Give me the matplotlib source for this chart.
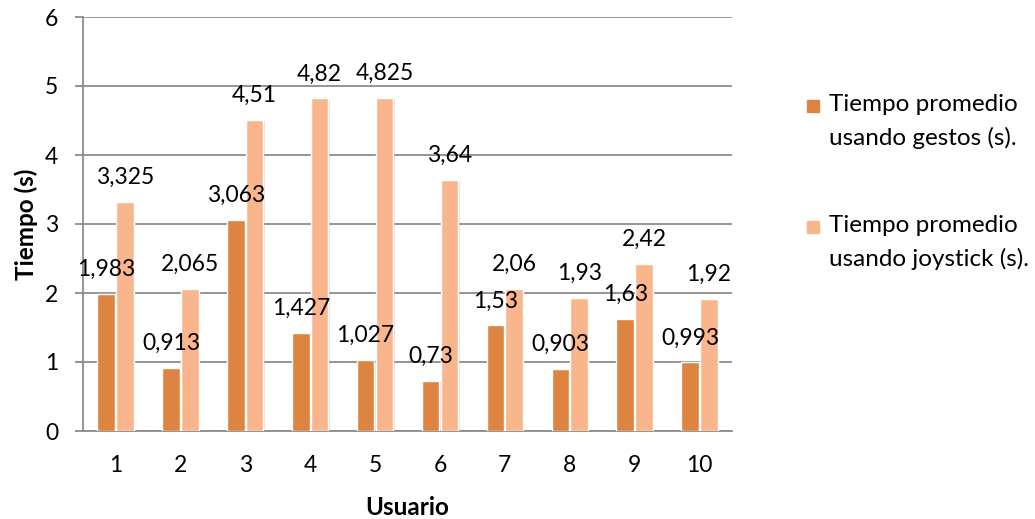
import matplotlib
matplotlib.use("Agg")
import matplotlib.pyplot as plt
import matplotlib.patheffects as pe
from matplotlib.patches import Rectangle
import numpy as np

plt.rcParams['font.family'] = ['Lato', 'DejaVu Sans']

usuarios = ['1', '2', '3', '4', '5', '6', '7', '8', '9', '10']
gestos = [1.983, 0.913, 3.063, 1.427, 1.027, 0.73, 1.53, 0.903, 1.63, 0.993]
joystick = [3.325, 2.065, 4.51, 4.82, 4.825, 3.64, 2.06, 1.93, 2.42, 1.92]
series_labels = ['Tiempo promedio\nusando gestos (s).',
                 'Tiempo promedio\nusando joystick (s).']
colors = ['#DC8440', '#F9B68C']

W, H = 1035, 519
fig = plt.figure(figsize=(W / 100, H / 100), dpi=100)
ax = fig.add_axes([83 / W, 1 - 431 / H, (732 - 83) / W, (431 - 17) / H])

x = np.arange(len(usuarios))
bw = 0.27
off = 0.145
shadow = [pe.SimplePatchShadow(offset=(1, -1), shadow_rgbFace='#999999', alpha=0.35), pe.Normal()]

for vals, sign, col in [(gestos, -1, colors[0]), (joystick, 1, colors[1])]:
    bars = ax.bar(x + sign * off, vals, width=bw, color=col,
                  edgecolor='white', linewidth=1.0, zorder=3)
    for b in bars:
        b.set_path_effects(shadow)
    for xi, v in zip(x + sign * off, vals):
        ax.annotate(f"{v:g}".replace('.', ','), (xi, v), xytext=(0, 13),
                    textcoords='offset points', ha='center', va='baseline',
                    fontsize=16.5, color='#000000', zorder=5)

ax.set_xlim(-0.5, len(usuarios) - 0.5)
ax.set_ylim(0, 6)
ax.set_yticks(range(0, 7))
ax.set_xticks(x)
ax.set_xticklabels(usuarios)
ax.grid(axis='y', color='#8c8c8c', linewidth=1.3, zorder=0)
ax.set_axisbelow(True)
for s in ['top', 'right']:
    ax.spines[s].set_visible(False)
for s in ['left', 'bottom']:
    ax.spines[s].set_color('#8c8c8c')
    ax.spines[s].set_linewidth(1.3)
ax.tick_params(axis='y', length=6, width=1.3, color='#8c8c8c', labelsize=16.5, pad=12)
ax.tick_params(axis='x', length=0, labelsize=16.5, pad=17)

ax.set_ylabel('Tiempo (s)', fontsize=17.5, fontweight='bold', labelpad=5)
ax.set_xlabel('Usuario', fontsize=17.5, fontweight='bold', labelpad=15)

# legend on the right side
leg_tops = [94, 215]
for col, lab, ty in zip(colors, series_labels, leg_tops):
    fig.patches.append(Rectangle((807 / W, 1 - (ty + 18) / H), 12 / W, 12 / H,
                                 transform=fig.transFigure, color=col))
    fig.text(829 / W, 1 - ty / H, lab, ha='left', va='top', fontsize=17.5,
             linespacing=1.65, color='#000000')

fig.savefig('out.png', dpi=100)
